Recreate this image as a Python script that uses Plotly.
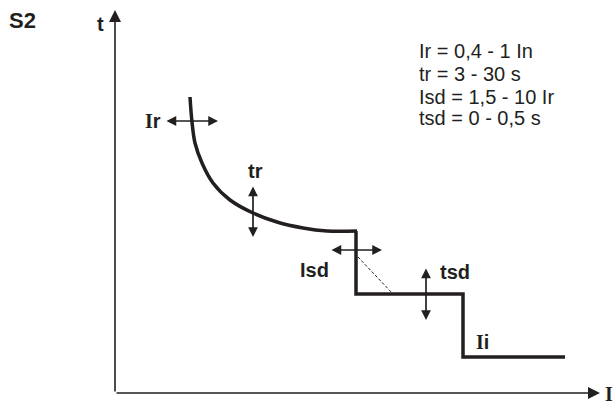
import plotly.graph_objects as go

# schema coordinates are in page pixels (x right, y down)
INK = "#231F20"
SANS = "Liberation Sans, Arial, sans-serif"
SERIF_I = "<span style='font-family:Liberation Serif'>I</span>"

# long-time (inverse) curve
curve_x = [190, 192, 195, 202, 213, 230, 253, 277, 303, 327, 357]
curve_y = [97, 122, 143, 163, 183, 200, 213, 222, 228, 231, 231]

# short-time and instantaneous steps
step_x = [356, 356, 463, 463, 565]
step_y = [231, 294, 294, 357, 357]

# dashed I²t slope
slope_x = [358, 393]
slope_y = [257, 294]

# setting arrows: (x_start, y_start, x_end, y_end)
setting_arrows = [
    (165, 121, 218, 121),   # Ir
    (253, 185, 253, 237),   # tr
    (330, 250, 382, 250),   # Isd
    (426, 267, 426, 320),   # tsd
]

# labels: (text, x, y)
curve_labels = [
    (SERIF_I + "r", 153, 121),
    ("tr", 255, 171),
    ("Isd", 314, 270),
    ("tsd", 455, 272),
    (SERIF_I + "i", 482, 342),
]

param_lines = ["Ir = 0,4 - 1 In", "tr = 3 - 30 s", "Isd = 1,5 - 10 Ir", "tsd = 0 - 0,5 s"]
param_y = [51, 74, 97, 118]

fig = go.Figure()

fig.add_scatter(x=curve_x, y=curve_y, mode="lines", line=dict(color=INK, width=3.5, shape="spline"),
                hoverinfo="skip", showlegend=False)
fig.add_scatter(x=step_x, y=step_y, mode="lines", line=dict(color=INK, width=3.5),
                hoverinfo="skip", showlegend=False)
fig.add_scatter(x=slope_x, y=slope_y, mode="lines", line=dict(color=INK, width=1, dash="3px,2px"),
                hoverinfo="skip", showlegend=False)

# axes with arrowheads
fig.add_annotation(x=115, y=10, ax=115, ay=393, xref="x", yref="y", axref="x", ayref="y",
                   text="", showarrow=True, arrowhead=2, arrowsize=1.5, arrowwidth=1.6, arrowcolor=INK)
fig.add_annotation(x=600, y=393, ax=115, ay=393, xref="x", yref="y", axref="x", ayref="y",
                   text="", showarrow=True, arrowhead=2, arrowsize=1.5, arrowwidth=1.6, arrowcolor=INK)

for x0, y0, x1, y1 in setting_arrows:
    fig.add_annotation(x=x1, y=y1, ax=x0, ay=y0, xref="x", yref="y", axref="x", ayref="y",
                       text="", showarrow=True, arrowside="end+start",
                       arrowhead=2, startarrowhead=2, arrowsize=1.15, startarrowsize=1.15,
                       arrowwidth=1.7, arrowcolor=INK)

for txt, x, y in curve_labels:
    fig.add_annotation(x=x, y=y, text="<b>" + txt + "</b>", showarrow=False,
                       font=dict(family=SANS, size=20, color=INK))

fig.add_annotation(x=22, y=20, text="<b>S2</b>", showarrow=False, font=dict(family=SANS, size=22, color=INK))
fig.add_annotation(x=100, y=24, text="<b>t</b>", showarrow=False, font=dict(family=SANS, size=20, color=INK))
fig.add_annotation(x=609, y=394, text="<b>" + SERIF_I + "</b>", showarrow=False,
                   font=dict(family=SANS, size=20, color=INK))

for txt, y in zip(param_lines, param_y):
    fig.add_annotation(x=417, y=y, text=txt, showarrow=False, xanchor="left",
                       font=dict(family=SANS, size=20, color=INK))

fig.update_layout(
    width=616, height=407, margin=dict(l=0, r=0, t=0, b=0),
    paper_bgcolor="white", plot_bgcolor="white",
    xaxis=dict(range=[0, 616], visible=False, fixedrange=True),
    yaxis=dict(range=[407, 0], visible=False, fixedrange=True),
)

fig.write_html("out.html", config={"displayModeBar": False},
               post_script="document.body.style.margin='0';")
